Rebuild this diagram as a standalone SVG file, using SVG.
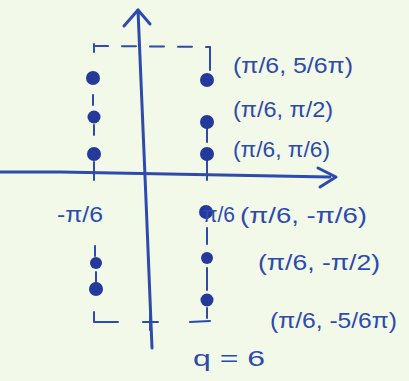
<svg xmlns="http://www.w3.org/2000/svg" width="409" height="381" viewBox="0 0 409 381">
<style>
.ink{stroke:#2d4aae;fill:none;stroke-linecap:round;stroke-linejoin:round}
.axis{stroke-width:3}
.dash{stroke-width:2;stroke-dasharray:14 14}
.dot{fill:#24399a}
.tk{stroke-width:2}
text{font-family:"Liberation Sans","DejaVu Sans",sans-serif;fill:#2d4aae;font-size:22px}
</style>
<rect width="409" height="381" fill="#f3f9e8"/>
<g id="axes">
<path class="ink axis" d="M0,172 L60,172 L330,177"/>
<path class="ink axis" d="M318,168 L336,177 L320,187"/>
<path class="ink axis" d="M138,10 L146,200 L152,348"/>
<path class="ink axis" d="M124,26 L138,10 L150,24"/>
</g>
<g id="frame">
<path class="ink dash" d="M94,46 L210,47"/>
<path class="ink tk" d="M94,44 L94,52 M94,312 L94,322 L118,322 M143,322 L158,322 M190,322 L210,321 M150,314 L150,330 M210,47 L210,70"/>
</g>
<g id="left-points">
<path class="ink tk" d="M93,95 L93,105 M94,125 L94,135 M94,162 L94,180 M95,246 L95,256 M96,272 L96,282"/>
<circle class="dot" cx="93" cy="78" r="7"/>
<circle class="dot" cx="94" cy="117" r="6.5"/>
<circle class="dot" cx="94" cy="154" r="7"/>
<circle class="dot" cx="96" cy="263" r="6"/>
<circle class="dot" cx="96" cy="289" r="7"/>
</g>
<g id="right-points">
<path class="ink tk" d="M207,128 L207,142 M207,160 L207,180 M207,228 L207,244 M207,268 L207,290 M207,308 L207,318"/>
<circle class="dot" cx="207" cy="80" r="7"/>
<circle class="dot" cx="207" cy="122" r="7"/>
<circle class="dot" cx="207" cy="154" r="7"/>
<circle class="dot" cx="206" cy="212" r="7"/>
<circle class="dot" cx="207" cy="258" r="6"/>
<circle class="dot" cx="207" cy="300" r="6.5"/>
</g>
<g id="labels">
<text x="233" y="73" textLength="120" lengthAdjust="spacingAndGlyphs">(π/6, 5/6π)</text>
<text x="233" y="117" textLength="100" lengthAdjust="spacingAndGlyphs">(π/6, π/2)</text>
<text x="233" y="157" textLength="97" lengthAdjust="spacingAndGlyphs">(π/6, π/6)</text>
<text x="57" y="222" textLength="46" lengthAdjust="spacingAndGlyphs">-π/6</text>
<text x="203" y="222" textLength="32" lengthAdjust="spacingAndGlyphs">π/6</text>
<text x="240" y="223" textLength="127" lengthAdjust="spacingAndGlyphs">(π/6, -π/6)</text>
<text x="258" y="270" textLength="122" lengthAdjust="spacingAndGlyphs">(π/6, -π/2)</text>
<text x="270" y="328" textLength="127" lengthAdjust="spacingAndGlyphs">(π/6, -5/6π)</text>
<text x="193" y="366" font-size="28" textLength="72" lengthAdjust="spacingAndGlyphs">q = 6</text>
</g>
</svg>
